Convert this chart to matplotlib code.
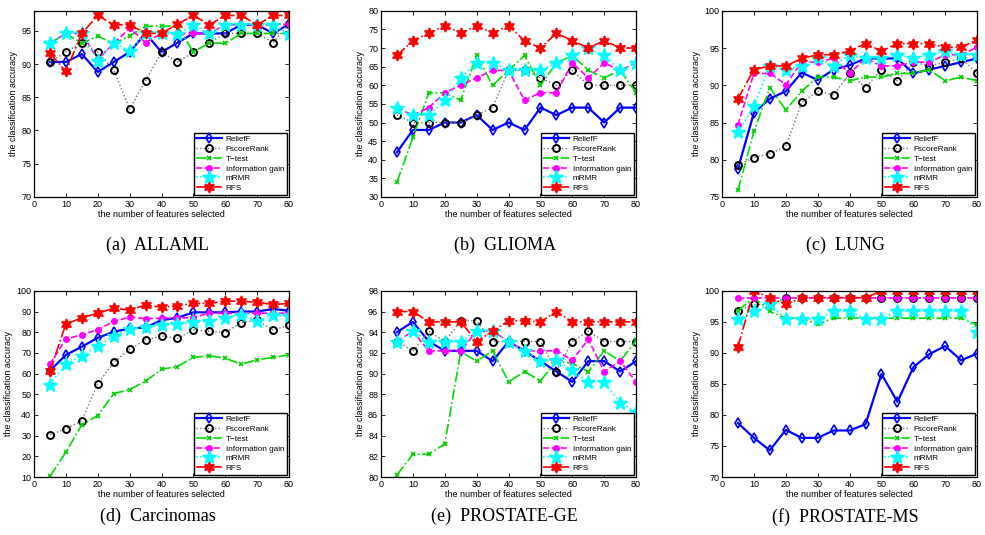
import matplotlib
matplotlib.use('Agg')
import matplotlib.pyplot as plt

# number of features selected (shared x values)
n_feat = [5, 10, 15, 20, 25, 30, 35, 40, 45, 50, 55, 60, 65, 70, 75, 80]

methods = ['ReliefF', 'FscoreRank', 'T\u2212test', 'Information gain', 'mRMR', 'RFS']

# (a) ALLAML
allaml_relieff = [90.3, 90.3, 91.5, 88.8, 90.3, 91.8, 94.6, 91.8, 93.2, 94.6, 94.6, 94.6, 95.9, 95.9, 94.6, 96.0]
allaml_fscore = [90.3, 91.8, 93.2, 91.8, 89.1, 83.2, 87.5, 91.8, 90.3, 91.8, 93.2, 94.6, 94.6, 94.6, 93.2, 96.0]
allaml_ttest = [93.1, 94.6, 93.1, 94.2, 93.1, 94.2, 95.7, 95.7, 95.7, 91.8, 93.2, 93.1, 94.6, 94.6, 94.6, 94.6]
allaml_infogain = [93.1, 94.6, 94.6, 90.7, 93.1, 95.4, 93.2, 94.6, 94.6, 94.6, 94.6, 95.9, 95.9, 95.9, 95.9, 96.0]
allaml_mrmr = [93.1, 94.6, 94.6, 90.5, 93.2, 91.9, 94.6, 94.6, 94.5, 95.9, 94.6, 95.9, 95.9, 95.9, 95.9, 94.5]
allaml_rfs = [91.6, 88.9, 94.6, 97.3, 95.9, 95.9, 94.6, 94.6, 96.0, 97.3, 95.9, 97.3, 97.3, 95.9, 97.3, 97.3]

# (b) GLIOMA
glioma_relieff = [42, 48, 48, 50, 50, 52, 48, 50, 48, 54, 52, 54, 54, 50, 54, 54]
glioma_fscore = [52, 50, 50, 50, 50, 52, 54, 64, 64, 62, 60, 64, 60, 60, 60, 60]
glioma_ttest = [34, 46, 58, 58, 56, 68, 60, 64, 68, 60, 66, 68, 64, 62, 64, 58]
glioma_infogain = [54, 52, 54, 58, 60, 62, 64, 64, 56, 58, 58, 66, 62, 66, 64, 66]
glioma_mrmr = [54, 52, 52, 56, 62, 66, 66, 64, 64, 64, 66, 68, 70, 68, 64, 66]
glioma_rfs = [68, 72, 74, 76, 74, 76, 74, 76, 72, 70, 74, 72, 70, 72, 70, 70]

# (c) LUNG
lung_relieff = [78.8, 86.3, 88.2, 89.2, 91.7, 90.7, 92.1, 92.7, 93.6, 93.6, 93.6, 91.6, 92.1, 92.6, 93.1, 93.6]
lung_fscore = [79.3, 80.3, 80.8, 81.8, 87.7, 89.2, 88.7, 91.6, 89.7, 92.1, 90.6, 93.1, 92.6, 93.1, 93.6, 91.6]
lung_ttest = [75.9, 83.8, 89.7, 86.7, 89.2, 91.1, 91.1, 90.6, 91.1, 91.1, 91.6, 91.6, 92.1, 90.6, 91.1, 90.6]
lung_infogain = [84.7, 91.6, 91.6, 90.1, 93.1, 93.1, 93.6, 91.6, 93.6, 92.6, 92.6, 93.1, 93.1, 94.1, 94.1, 95.1]
lung_mrmr = [83.7, 87.2, 92.6, 92.1, 92.6, 93.6, 92.6, 94.1, 93.6, 93.6, 94.1, 93.6, 94.1, 94.6, 94.1, 94.1]
lung_rfs = [88.2, 92.1, 92.6, 92.6, 93.6, 94.1, 94.1, 94.6, 95.6, 94.6, 95.6, 95.6, 95.6, 95.1, 95.1, 96.1]

# (d) Carcinomas
carc_relieff = [61.4, 69.0, 73.0, 77.3, 80.2, 81.8, 82.3, 85.8, 87.0, 89.6, 89.6, 89.6, 90.0, 90.0, 91.2, 90.4]
carc_fscore = [30.4, 33.3, 37.3, 55.1, 65.4, 71.8, 76.3, 78.2, 77.0, 81.1, 80.5, 79.8, 84.6, 85.8, 81.1, 83.4]
carc_ttest = [10.3, 22.0, 35.2, 39.7, 50.3, 52.3, 56.3, 62.1, 63.4, 67.8, 68.6, 67.4, 64.5, 66.7, 67.8, 69.0]
carc_infogain = [64.5, 76.7, 78.8, 81.2, 85.2, 87.3, 86.5, 86.8, 86.8, 87.1, 89.2, 89.2, 89.2, 89.2, 89.2, 89.2]
carc_mrmr = [54.7, 64.7, 68.5, 73.5, 78.0, 81.5, 82.3, 83.4, 83.9, 84.7, 85.5, 87.1, 88.4, 85.5, 88.3, 87.9]
carc_rfs = [61.3, 83.9, 87.0, 89.2, 91.5, 90.8, 93.1, 92.1, 92.8, 93.9, 93.9, 95.0, 95.0, 94.4, 93.4, 93.9]

# (e) PROSTATE-GE
pge_relieff = [94.0, 95.0, 93.1, 92.2, 92.2, 92.2, 91.2, 93.1, 92.2, 91.2, 90.2, 89.2, 91.2, 91.2, 90.2, 91.2]
pge_fscore = [93.1, 92.2, 94.1, 93.1, 95.1, 95.1, 93.1, 93.1, 93.1, 93.1, 90.2, 93.1, 94.1, 93.1, 93.1, 93.1]
pge_ttest = [80.2, 82.2, 82.2, 83.2, 92.1, 91.2, 92.2, 89.2, 90.2, 89.3, 91.2, 91.0, 90.2, 92.2, 91.2, 93.2]
pge_infogain = [93.1, 94.1, 92.2, 92.2, 92.2, 94.1, 94.1, 93.1, 92.2, 92.2, 92.2, 91.3, 93.3, 90.2, 91.2, 89.2]
pge_mrmr = [93.1, 94.1, 93.1, 93.1, 93.1, 94.1, 94.1, 93.1, 92.2, 91.2, 91.3, 90.3, 89.2, 89.2, 87.2, 86.3]
pge_rfs = [96.0, 96.0, 95.0, 95.0, 95.0, 93.1, 94.1, 95.1, 95.1, 95.0, 96.0, 95.0, 95.0, 95.0, 95.0, 95.0]

# (f) PROSTATE-MS
pms_relieff = [78.7, 76.3, 74.3, 77.6, 76.3, 76.3, 77.5, 77.5, 78.5, 86.6, 82.1, 87.7, 89.8, 91.1, 88.8, 89.9]
pms_fscore = [96.8, 97.8, 97.8, 98.9, 98.9, 98.9, 98.9, 98.9, 98.9, 98.9, 98.9, 98.9, 98.9, 98.9, 98.9, 98.9]
pms_ttest = [96.8, 98.9, 96.7, 95.6, 95.6, 94.6, 95.6, 95.6, 95.6, 95.6, 95.6, 95.6, 95.6, 95.6, 95.6, 94.5]
pms_infogain = [98.9, 98.9, 98.9, 98.9, 98.9, 98.9, 98.9, 98.9, 98.9, 98.9, 98.9, 98.9, 98.9, 98.9, 98.9, 98.9]
pms_mrmr = [95.5, 96.7, 97.8, 95.5, 95.5, 95.5, 96.7, 96.7, 95.5, 95.5, 96.7, 96.7, 96.7, 96.7, 96.7, 93.3]
pms_rfs = [91.0, 100.0, 98.9, 97.8, 98.9, 98.9, 98.9, 98.9, 98.9, 100.0, 100.0, 100.0, 100.0, 100.0, 100.0, 100.0]

# line styles, one per method (MATLAB look)
styles = [
    dict(color='#0000ff', ls='-', lw=1.6, marker='d', ms=5, mfc='none', mec='#0000ff', mew=1.2),
    dict(color='0.45', ls=':', lw=1.0, marker='o', ms=5, mfc='none', mec='k', mew=1.4),
    dict(color='#00dd00', ls='-.', lw=1.2, marker='x', ms=3.5, mec='#00cc00', mew=1.2),
    dict(color='#ff00ff', ls='--', lw=1.2, marker='o', ms=4, mfc='#ff00ff', mec='#ff00ff'),
    dict(color='#00ffff', ls=':', lw=1.2, marker='*', ms=10, mfc='#00ffff', mec='#00ffff'),
    dict(color='#ff0000', ls='-.', lw=1.2, marker=(6, 1, 0), ms=8, mfc='#ff0000', mec='#ff0000'),
]

plt.rcParams['font.family'] = ['Liberation Sans', 'DejaVu Sans']

fig = plt.figure(figsize=(9.85, 5.35), dpi=100)

lefts = [0.0345, 0.3868, 0.733]
bottoms = [0.6318, 0.1084]
w, h = 0.259, 0.348

panels = [
    ('(a)  ALLAML', [allaml_relieff, allaml_fscore, allaml_ttest, allaml_infogain, allaml_mrmr, allaml_rfs], (70, 98), range(70, 96, 5)),
    ('(b)  GLIOMA', [glioma_relieff, glioma_fscore, glioma_ttest, glioma_infogain, glioma_mrmr, glioma_rfs], (30, 80), range(30, 81, 5)),
    ('(c)  LUNG', [lung_relieff, lung_fscore, lung_ttest, lung_infogain, lung_mrmr, lung_rfs], (75, 100), range(75, 101, 5)),
    ('(d)  Carcinomas', [carc_relieff, carc_fscore, carc_ttest, carc_infogain, carc_mrmr, carc_rfs], (10, 100), range(10, 101, 10)),
    ('(e)  PROSTATE-GE', [pge_relieff, pge_fscore, pge_ttest, pge_infogain, pge_mrmr, pge_rfs], (80, 98), range(80, 99, 2)),
    ('(f)  PROSTATE-MS', [pms_relieff, pms_fscore, pms_ttest, pms_infogain, pms_mrmr, pms_rfs], (70, 100), range(70, 101, 5)),
]

for i, (caption, series, ylim, yticks) in enumerate(panels):
    row, col = divmod(i, 3)
    ax = fig.add_axes([lefts[col], bottoms[row], w, h])
    for name, ys, st in zip(methods, series, styles):
        ax.plot(n_feat, ys, label=name, **st)
    ax.set_xlim(0, 80)
    ax.set_ylim(*ylim)
    ax.set_xticks(range(0, 81, 10))
    ax.set_yticks(list(yticks))
    ax.tick_params(direction='in', top=True, right=True, length=3, width=0.6,
                   labelsize=6.5, pad=2)
    for sp in ax.spines.values():
        sp.set_linewidth(0.9)
    ax.set_xlabel('the number of features selected', fontsize=6.5, labelpad=1)
    ax.set_ylabel('the classification accuracy', fontsize=6.5, labelpad=2)
    leg = ax.legend(loc='lower right', fontsize=5.9, frameon=True, fancybox=False,
                    borderaxespad=0.3, borderpad=0.3, labelspacing=0.25,
                    handlelength=3.2, handletextpad=0.4, framealpha=1)
    leg.get_frame().set_edgecolor('k')
    leg.get_frame().set_linewidth(1.0)
    cx = lefts[col] + w / 2 - 0.004
    cy = 0.542 if row == 0 else 0.034
    fig.text(cx, cy, caption, ha='center', va='center', fontsize=13,
             family='Liberation Serif')

plt.savefig('out.png', dpi=100)
